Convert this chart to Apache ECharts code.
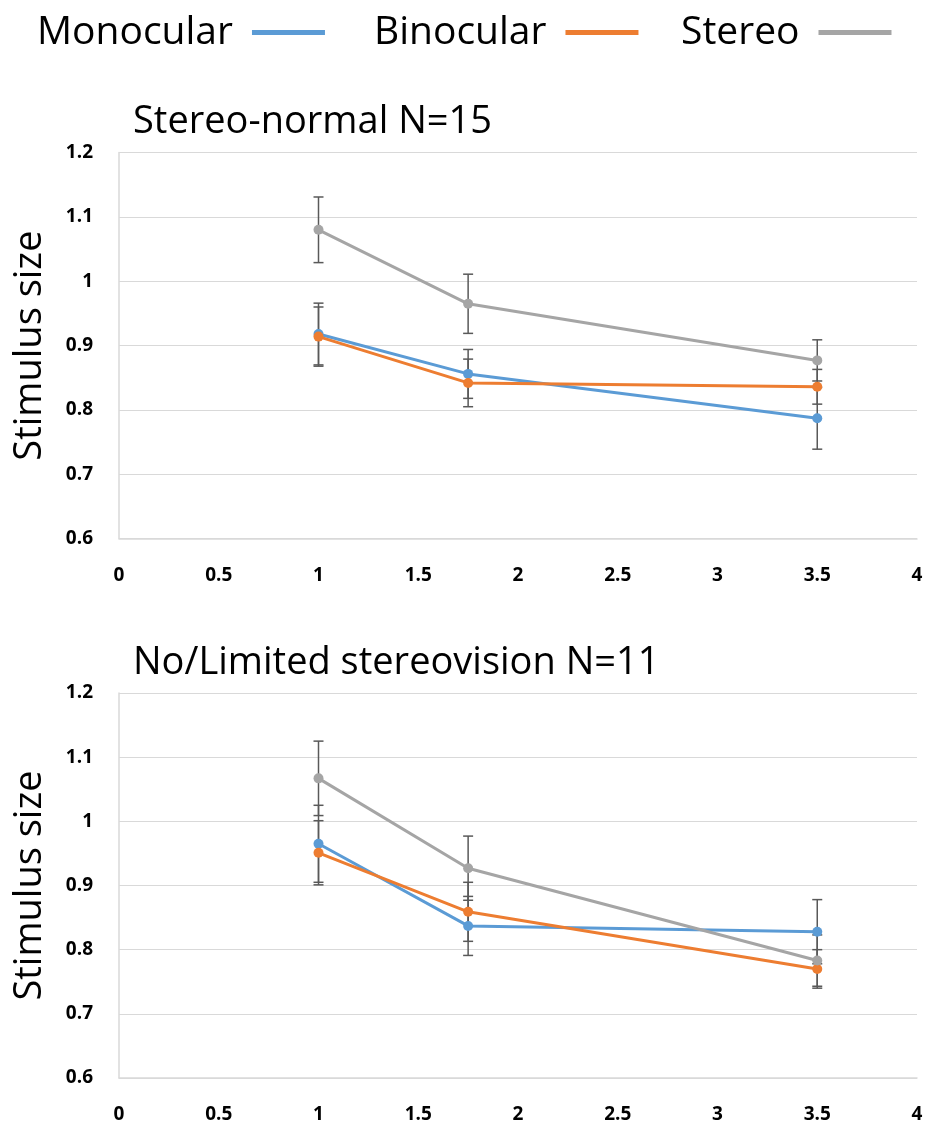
<!DOCTYPE html>
<html>
<head>
<meta charset="utf-8">
<script src="https://cdn.jsdelivr.net/npm/echarts@6/dist/echarts.min.js"></script>
<style>
  html, body { margin: 0; padding: 0; background: #fff; }
  #chart { width: 926px; height: 1124px; }
</style>
</head>
<body>
<div id="chart"></div>
<script>
// x positions shared by both panels
const xValues = [1, 1.75, 3.5];

// Stereo-normal N=15
const normalMono = [0.918, 0.856, 0.787];
const normalMonoErr = [0.048, 0.038, 0.048];
const normalBino = [0.914, 0.842, 0.836];
const normalBinoErr = [0.046, 0.037, 0.027];
const normalStereo = [1.080, 0.965, 0.877];
const normalStereoErr = [0.051, 0.046, 0.032];

// No/Limited stereovision N=11
const limitedMono = [0.965, 0.837, 0.828];
const limitedMonoErr = [0.060, 0.046, 0.050];
const limitedBino = [0.951, 0.859, 0.770];
const limitedBinoErr = [0.050, 0.046, 0.030];
const limitedStereo = [1.067, 0.927, 0.783];
const limitedStereoErr = [0.058, 0.050, 0.040];

const seriesNames = ["Monocular", "Binocular", "Stereo"];
const panelTitles = ["Stereo-normal N=15", "No/Limited stereovision N=11"];
const yTicks = { min: 0.6, max: 1.2, step: 0.1 };
const xTicks = { min: 0, max: 4, step: 0.5 };

const colors = ["#5B9BD5", "#ED7D31", "#A5A5A5"];
const panels = [
  { means: [normalMono, normalBino, normalStereo], errs: [normalMonoErr, normalBinoErr, normalStereoErr] },
  { means: [limitedMono, limitedBino, limitedStereo], errs: [limitedMonoErr, limitedBinoErr, limitedStereoErr] },
];

const chart = echarts.init(document.getElementById("chart"));

function errorBar(params, api) {
  const x = api.value(0);
  const lo = api.coord([x, api.value(1)]);
  const hi = api.coord([x, api.value(2)]);
  const cap = 5;
  const style = { stroke: "#595959", lineWidth: 1.5 };
  return {
    type: "group",
    children: [
      { type: "line", shape: { x1: hi[0], y1: hi[1], x2: lo[0], y2: lo[1] }, style },
      { type: "line", shape: { x1: hi[0] - cap, y1: hi[1], x2: hi[0] + cap, y2: hi[1] }, style },
      { type: "line", shape: { x1: lo[0] - cap, y1: lo[1], x2: lo[0] + cap, y2: lo[1] }, style },
    ],
  };
}

const gridTops = [152.6, 693];
const labelFont = { color: "#000", fontFamily: "Open Sans", fontWeight: "bold", fontSize: 19 };

const series = [];
panels.forEach((panel, p) => {
  panel.means.forEach((vals, s) => {
    series.push({
      type: "custom",
      name: seriesNames[s] + " error",
      xAxisIndex: p,
      yAxisIndex: p,
      renderItem: errorBar,
      encode: { x: 0, y: [1, 2] },
      data: xValues.map((x, i) => [x, vals[i] - panel.errs[s][i], vals[i] + panel.errs[s][i]]),
      z: 1,
      silent: true,
    });
  });
  panel.means.forEach((vals, s) => {
    series.push({
      type: "line",
      name: seriesNames[s],
      xAxisIndex: p,
      yAxisIndex: p,
      data: xValues.map((x, i) => [x, vals[i]]),
      color: colors[s],
      symbol: "circle",
      symbolSize: 10,
      lineStyle: { width: 3, color: colors[s] },
      itemStyle: { color: colors[s] },
      z: 3,
    });
  });
});

const legendLefts = [32, 369, 676];
chart.setOption({
  animation: false,
  title: panelTitles.map((t, i) => ({
    text: t,
    left: 128,
    top: gridTops[i] - 54,
    textStyle: { fontFamily: "Open Sans", fontWeight: "normal", fontSize: 38, color: "#000" },
  })),
  legend: seriesNames.map((n, i) => ({
    data: [n],
    left: legendLefts[i],
    top: 8,
    align: "right",
    icon: "rect",
    itemWidth: 73,
    itemHeight: 5,
    textStyle: { fontFamily: "Open Sans", fontSize: 39, color: "#000", padding: [0, 14, 0, 0] },
  })),
  grid: gridTops.map((t) => ({ left: 119, top: t, width: 798, height: 386 })),
  xAxis: gridTops.map((_, i) => ({
    type: "value",
    gridIndex: i,
    min: xTicks.min,
    max: xTicks.max,
    interval: xTicks.step,
    axisLine: { show: true, lineStyle: { color: "#d9d9d9", width: 1.5 } },
    axisTick: { show: false },
    splitLine: { show: false },
    axisLabel: { ...labelFont, margin: 27 },
  })),
  yAxis: gridTops.map((_, i) => ({
    type: "value",
    gridIndex: i,
    min: yTicks.min,
    max: yTicks.max,
    interval: yTicks.step,
    name: "Stimulus size",
    nameLocation: "middle",
    nameGap: 70,
    nameTextStyle: { fontFamily: "Open Sans", fontSize: 38, color: "#000" },
    axisLine: { show: true, lineStyle: { color: "#d9d9d9", width: 1.5 } },
    axisTick: { show: false },
    splitLine: { lineStyle: { color: "#d9d9d9", width: 1 } },
    axisLabel: { ...labelFont, margin: 26, formatter: (v) => String(+v.toFixed(1)) },
  })),
  series,
});
</script>
</body>
</html>
